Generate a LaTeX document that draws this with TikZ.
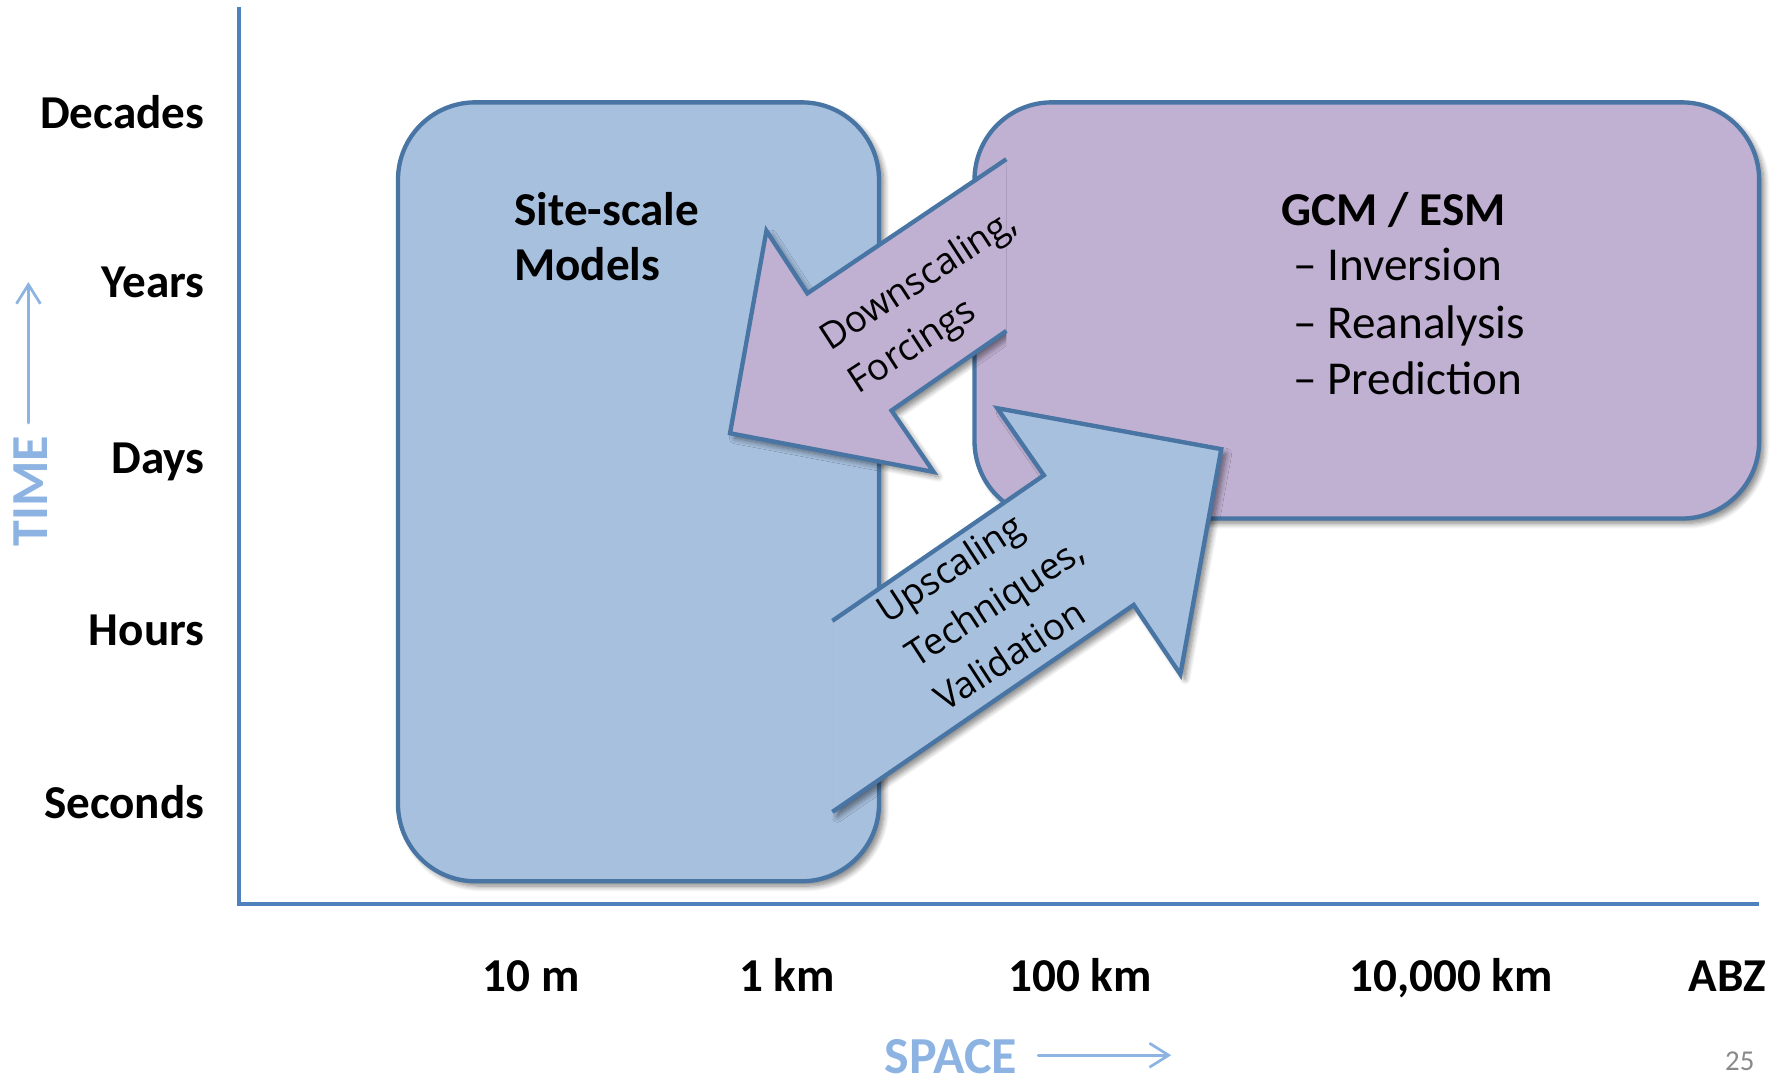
\documentclass[tikz,border=0pt]{standalone}
\usepackage{fontspec}
\setmainfont{Carlito}
\newfontfamily\arrowfont{Open Sans}
\usetikzlibrary{arrows.meta,shadows.blur}

\definecolor{axisblue}{RGB}{79,129,189}
\definecolor{lightaxis}{RGB}{141,179,226}
\definecolor{sitefill}{RGB}{167,192,222}
\definecolor{gcmfill}{RGB}{192,176,210}
\definecolor{edgeblue}{RGB}{72,117,163}
\definecolor{pagegray}{RGB}{137,137,137}

\begin{document}
\begin{tikzpicture}[x=0.025cm, y=-0.025cm,
  softshadow/.style={blur shadow={shadow xshift=3pt, shadow yshift=-3pt,
      shadow blur radius=3.5pt, shadow blur steps=8, shadow opacity=50}},
  modelbox/.style={draw=edgeblue, line width=2.7pt, rounded corners=1.7cm, softshadow},
  arrowfill/.style={line width=2.7pt, draw=edgeblue, line join=miter},
  scalelabel/.style={font=\fontsize{29.5}{34}\selectfont\bfseries, inner sep=0pt},
  boxtext/.style={font=\fontsize{29.5}{34}\selectfont, inner sep=0pt, anchor=base west},
  arrowtext/.style={font=\arrowfont\fontsize{23}{27}\selectfont, rotate=33,
      inner sep=0pt, anchor=base west},
  axistitle/.style={font=\fontsize{32.5}{36}\selectfont\bfseries, text=lightaxis, inner sep=0pt},
  axisarrow/.style={draw=lightaxis, line width=1.7pt, line cap=round,
      -{Straight Barb[length=12pt, width=15pt, line width=1.7pt]}},
]
\useasboundingbox (0,0) rectangle (1568,947);

% axes
\coordinate (origin) at (210,795);
\coordinate (ytop) at (210,6);
\coordinate (xend) at (1547,795);
\draw[axisblue, line width=2.7pt] (ytop) -- (origin) -- (xend);

% time scale labels
\node[scalelabel, anchor=base east] (decades) at (180,113) {Decades};
\node[scalelabel, anchor=base east] (years)   at (180,262) {Years};
\node[scalelabel, anchor=base east] (days)    at (180,416) {Days};
\node[scalelabel, anchor=base east] (hours)   at (180,568) {Hours};
\node[scalelabel, anchor=base east] (seconds) at (180,720) {Seconds};

% space scale labels
\node[scalelabel, anchor=base] (tenm)   at (467,872)  {10 m};
\node[scalelabel, anchor=base] (onekm)  at (692,872)  {1 km};
\node[scalelabel, anchor=base] (hundkm) at (950,872)  {100 km};
\node[scalelabel, anchor=base] (tenkkm) at (1276,872) {10,000 km};
\node[scalelabel, anchor=base] (abz)    at (1519,872) {ABZ};

% axis titles
\node[axistitle, rotate=90] (timelbl) at (27,432) {TIME};
\coordinate (tA) at (25,372);
\coordinate (tB) at (25,248);
\draw[axisarrow] (tA) -- (tB);
\node[axistitle] (spacelbl) at (836,929) {SPACE};
\coordinate (sA) at (913,928);
\coordinate (sB) at (1030,928);
\draw[axisarrow] (sA) -- (sB);

% page number
\node[font=\fontsize{18}{20}\selectfont, text=pagegray, inner sep=0pt] (pagenum) at (1530,933) {25};

% model boxes
\draw[modelbox, fill=sitefill] (350,90) rectangle (773,775);
\draw[modelbox, fill=gcmfill] (857,90) rectangle (1547,456);

\node[boxtext, font=\fontsize{29.5}{34}\selectfont\bfseries] (site1) at (452,198) {Site-scale};
\node[boxtext, font=\fontsize{29.5}{34}\selectfont\bfseries] (site2) at (452,247) {Models};

\node[boxtext, font=\fontsize{29.5}{34}\selectfont\bfseries] (gcm) at (1127,198) {GCM / ESM};
\node[boxtext] (inv)  at (1137,247) {\textendash{} Inversion};
\node[boxtext] (rean) at (1137,298) {\textendash{} Reanalysis};
\node[boxtext] (pred) at (1137,347) {\textendash{} Prediction};

% downscaling arrow (purple), its tail merging into the GCM box
\coordinate (dTu)  at (885,140);
\coordinate (dNu)  at (710,258);
\coordinate (dBu)  at (674,203);
\coordinate (dTip) at (642,381);
\coordinate (dBl)  at (821,415);
\coordinate (dNl)  at (784,361);
\coordinate (dTl)  at (885,291);
\begin{scope}
  \clip (0,0) rectangle (885,947);
  \path[softshadow] (dTu) -- (dNu) -- (dBu) -- (dTip) -- (dBl) -- (dNl) -- (dTl) -- cycle;
\end{scope}
\fill[gcmfill] (dTu) -- (dNu) -- (dBu) -- (dTip) -- (dBl) -- (dNl) -- (dTl) -- cycle;
\draw[arrowfill] (dTu) -- (dNu) -- (dBu) -- (dTip) -- (dBl) -- (dNl) -- (dTl);

% upscaling arrow (blue), its tail merging into the site-scale box
\coordinate (uTu)  at (732,546);
\coordinate (uNu)  at (918,418);
\coordinate (uBu)  at (877,359);
\coordinate (uTip) at (1074,395);
\coordinate (uBl)  at (1038,593);
\coordinate (uNl)  at (997,532);
\coordinate (uTl)  at (732,714);
\begin{scope}
  \clip (732,0) rectangle (1568,947);
  \path[softshadow] (uTu) -- (uNu) -- (uBu) -- (uTip) -- (uBl) -- (uNl) -- (uTl) -- cycle;
\end{scope}
\fill[sitefill] (uTu) -- (uNu) -- (uBu) -- (uTip) -- (uBl) -- (uNl) -- (uTl) -- cycle;
\draw[arrowfill] (uTu) -- (uNu) -- (uBu) -- (uTip) -- (uBl) -- (uNl) -- (uTl);

% arrow labels
\node[arrowtext] (down1) at (730,309) {Downscaling,};
\node[arrowtext] (down2) at (755,347) {Forcings};
\node[arrowtext] (up1) at (780,549) {Upscaling};
\node[arrowtext] (up2) at (806,588) {Techniques,};
\node[arrowtext] (up3) at (831,627) {Validation};
\end{tikzpicture}
\end{document}
